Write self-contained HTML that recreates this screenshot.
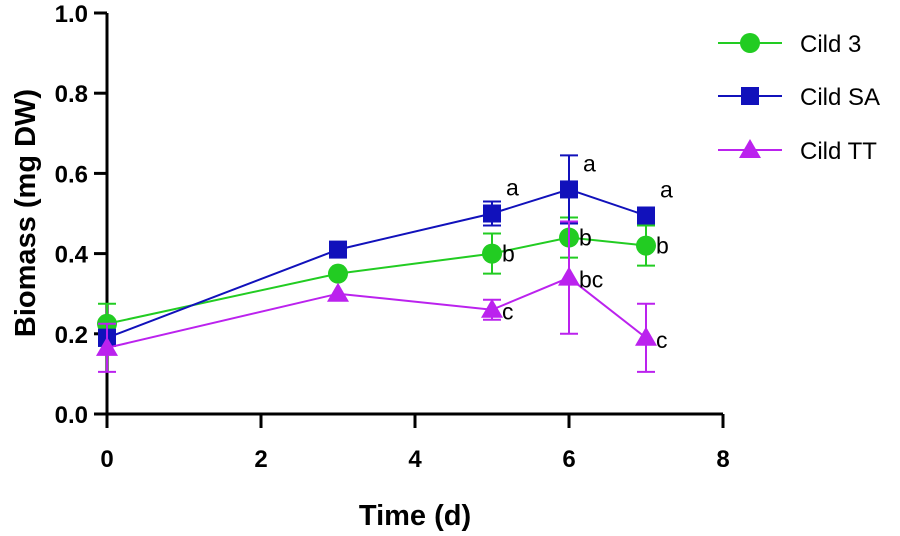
<!DOCTYPE html>
<html><head><meta charset="utf-8"><style>
body{margin:0;background:#fff}
svg text{font-family:"Liberation Sans",Arial,sans-serif}
</style></head><body>
<svg id="chart" width="900" height="531" viewBox="0 0 900 531" xmlns="http://www.w3.org/2000/svg">
<g id="axes"></g><g id="series"></g><g id="legend"></g>
</svg>
<script>
const days=[0,3,5,6,7];
const seriesNames=["Cild 3","Cild SA","Cild TT"];
const cild3=[0.225,0.35,0.40,0.44,0.42];
const cild3Err=[0.05,0.0,0.05,0.05,0.05];
const cildSA=[0.19,0.41,0.50,0.56,0.495];
const cildSAErr=[0.02,0.0,0.03,0.085,0.0];
const cildTT=[0.165,0.30,0.26,0.34,0.19];
const cildTTErr=[0.06,0.0,0.025,0.14,0.085];
const letters3=["","","b","b","b"];
const lettersSA=["","","a","a","a"];
const lettersTT=["","","c","bc","c"];
const xTicks=[0,2,4,6,8];
const yTicks=[0,0.2,0.4,0.6,0.8,1.0];
const NS="http://www.w3.org/2000/svg";
const X=v=>107+v*77, Y=v=>414-v*401;
function mk(tag,attrs,parent,txt){const e=document.createElementNS(NS,tag);for(const k in attrs)e.setAttribute(k,attrs[k]);if(txt!==undefined)e.textContent=txt;parent.appendChild(e);return e;}
const ax=document.getElementById('axes');
let e=mk('line',{x1:107,y1:13,x2:107,y2:414,stroke:'#000','stroke-width':3},ax);

e=mk('line',{x1:107,y1:414,x2:723,y2:414,stroke:'#000','stroke-width':3},ax);

yTicks.forEach(t=>{mk('line',{x1:94,y1:Y(t),x2:107,y2:Y(t),stroke:'#000','stroke-width':3},ax);
 e=mk('text',{x:88,y:Y(t)+9,'text-anchor':'end','font-size':24,'font-weight':'bold'},ax,t.toFixed(1));
 });
xTicks.forEach(t=>{mk('line',{x1:X(t),y1:414,x2:X(t),y2:428,stroke:'#000','stroke-width':3},ax);
 e=mk('text',{x:X(t),y:467,'text-anchor':'middle','font-size':24,'font-weight':'bold'},ax,String(t));
 });
e=mk('text',{x:415,y:525,'text-anchor':'middle','font-size':29,'font-weight':'bold'},ax,'Time (d)');

e=mk('text',{x:0,y:0,'text-anchor':'middle','font-size':29,'font-weight':'bold',transform:'translate(35,213) rotate(-90)'},ax,'Biomass (mg DW)');

const sg=document.getElementById('series');
function marker(shape,x,y,c,p){
 if(shape==='circle')return mk('circle',{cx:x,cy:y,r:10,fill:c},p);
 if(shape==='square')return mk('rect',{x:x-9,y:y-9,width:18,height:18,fill:c},p);
 return mk('polygon',{points:`${x},${y-11} ${x+11},${y+8} ${x-11},${y+8}`,fill:c},p);}
const defs=[[cild3,cild3Err,letters3,'#22cc22','circle','series-cild-3'],[cildSA,cildSAErr,lettersSA,'#1111bb','square','series-cild-sa'],[cildTT,cildTTErr,lettersTT,'#bb22ee','triangle','series-cild-tt']];
defs.forEach(([vals,errs,lets,c,shape,name])=>{
 const g=mk('g',{},sg);
 
 mk('polyline',{points:vals.map((v,i)=>X(days[i])+','+Y(v)).join(' '),fill:'none',stroke:c,'stroke-width':2},g);
 vals.forEach((v,i)=>{const x=X(days[i]);
  if(errs[i]>0){const t=Y(v+errs[i]),b=Y(v-errs[i]);
   mk('line',{x1:x,y1:t,x2:x,y2:b,stroke:c,'stroke-width':2},g);
   mk('line',{x1:x-9,y1:t,x2:x+9,y2:t,stroke:c,'stroke-width':2},g);
   mk('line',{x1:x-9,y1:b,x2:x+9,y2:b,stroke:c,'stroke-width':2},g);}
  const m=marker(shape,x,Y(v),c,g);
  
  if(lets[i]){const dy=shape==='square'?-18:(shape==='triangle'?10:8);const dx=shape==='square'?14:10;
   const t=mk('text',{x:x+dx,y:Y(v)+dy,'font-size':23},g,lets[i]);
   }
 });
});
const lg=document.getElementById('legend');
[[43,'#22cc22','circle'],[96,'#1111bb','square'],[150,'#bb22ee','triangle']].forEach(([y,c,s],i)=>{
 const g=mk('g',{},lg);
 
 mk('line',{x1:718,y1:y,x2:782,y2:y,stroke:c,'stroke-width':2},g);
 marker(s,750,y,c,g);
 mk('text',{x:800,y:y+9,'font-size':24},g,seriesNames[i]);
});
</script>
</body></html>
